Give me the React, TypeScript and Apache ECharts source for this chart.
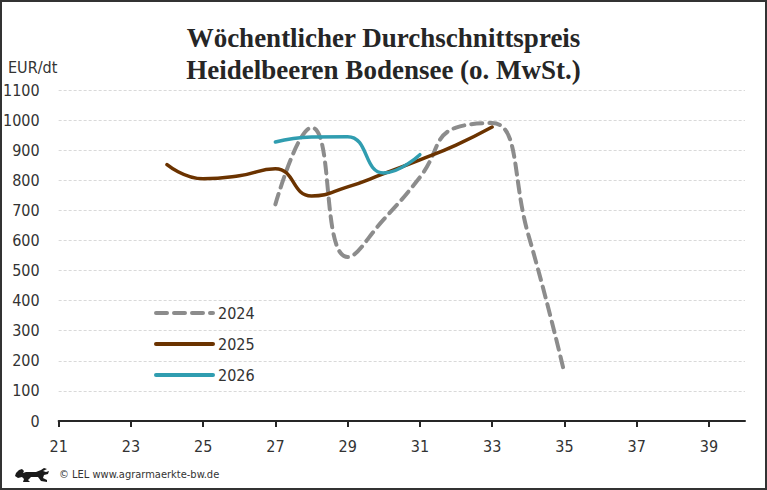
import React, { useEffect, useRef } from "react";
import * as echarts from "echarts";

const weeks = ["21","22","23","24","25","26","27","28","29","30","31","32","33","34","35","36","37","38","39","40"];
const s2024 = [null,null,null,null,null,null,720,975,545,670,810,975,990,620,160,null,null,null,null,null];
const s2025 = [null,null,null,852,805,815,838,748,778,822,868,917,977,null,null,null,null,null,null,null];
const s2026 = [null,null,null,null,null,null,927,944,945,824,885,null,null,null,null,null,null,null,null,null];
const seriesNames = ["2024","2025","2026"];
const titleLines = ["Wöchentlicher Durchschnittspreis","Heidelbeeren Bodensee (o. MwSt.)"];
const yUnit = "EUR/dt";
const footer = "© LEL www.agrarmaerkte-bw.de";

const lionPath = "M2 6 L5 3 L8 2 L10 4 L9 6 L12 5 L22 5 L27 3 L30 1 L33 2 L31 3 L29 4 L32 5 L35 4 L34 7 L30 8 L29 11 L33 13 L33 15 L27 14 L24 10 L17 10 L14 13 L16 15 L9 15 L10 12 L8 10 L4 11 L1 9 Z";

let registered = false;

export default function App() {
  const ref = useRef<HTMLDivElement>(null);
  useEffect(() => {
    document.body.style.margin = "0";
    if (!registered) {
      echarts.graphic.registerShape("lion", echarts.graphic.extendPath(lionPath, {}));
      registered = true;
    }
    const chart = echarts.init(ref.current!, null, { renderer: "svg" });
    const font = "'DejaVu Sans Condensed', sans-serif";
    chart.setOption({
      animation: false,
      backgroundColor: "#ffffff",
      title: {
        text: titleLines.join("\n"),
        left: "center",
        top: 17,
        textStyle: {
          fontFamily: "Liberation Serif",
          fontWeight: "bold",
          fontSize: 27,
          lineHeight: 32,
          color: "#262626",
        },
      },
      grid: { left: 57, right: 22, top: 90, bottom: 69 },
      legend: {
        orient: "vertical",
        left: 154,
        top: 303,
        padding: 0,
        itemWidth: 57,
        itemHeight: 20,
        itemGap: 11,
        itemStyle: { opacity: 0 },
        lineStyle: { width: 4 },
        textStyle: { fontFamily: font, fontSize: 16, color: "#333", lineHeight: 20 },
        data: seriesNames,
      },
      xAxis: {
        type: "category",
        data: weeks,
        boundaryGap: false,
        axisLine: { lineStyle: { color: "#262626", width: 2 } },
        axisTick: { show: true, interval: 1, length: 6, lineStyle: { color: "#262626", width: 2 } },
        axisLabel: { interval: 1, margin: 17, fontFamily: font, fontSize: 16, color: "#333" },
        splitLine: { show: false },
      },
      yAxis: {
        type: "value",
        min: 0,
        max: 1100,
        interval: 100,
        axisLine: { show: false },
        axisTick: { show: false },
        axisLabel: { margin: 19, fontFamily: font, fontSize: 16, color: "#333", formatter: (v: number) => String(v) },
        splitLine: { lineStyle: { color: "#d9d9d9", type: [3, 2], width: 1 } },
      },
      series: [
        {
          name: seriesNames[0],
          type: "line",
          data: s2024,
          smooth: 0.5,
          symbol: "none",
          lineStyle: { color: "#8c8c8c", width: 4, type: [11, 7], cap: "round" },
          itemStyle: { color: "#8c8c8c" },
        },
        {
          name: seriesNames[1],
          type: "line",
          data: s2025,
          smooth: 0.5,
          symbol: "none",
          lineStyle: { color: "#6b3300", width: 3.5, cap: "round" },
          itemStyle: { color: "#6b3300" },
        },
        {
          name: seriesNames[2],
          type: "line",
          data: s2026,
          smooth: 0.5,
          symbol: "none",
          lineStyle: { color: "#309db0", width: 3.5, cap: "round" },
          itemStyle: { color: "#309db0" },
        },
      ],
      graphic: [
        {
          type: "rect",
          shape: { x: 1, y: 1, width: 765, height: 488 },
          style: { fill: "none", stroke: "#333", lineWidth: 2 },
          silent: true,
        },
        {
          type: "text",
          left: 8,
          top: 59,
          style: { text: yUnit, fontFamily: font, fontSize: 16, fill: "#333" },
        },
        {
          type: "lion",
          x: 14,
          y: 467,
          scaleX: 1,
          scaleY: 1,
          style: { fill: "#1a1a1a" },
        },
        {
          type: "text",
          left: 59,
          top: 469,
          style: { text: footer, fontFamily: font, fontSize: 11, fill: "#333" },
        },
      ],
    });
    return () => chart.dispose();
  }, []);
  return <div ref={ref} style={{ width: 767, height: 490 }} />;
}
